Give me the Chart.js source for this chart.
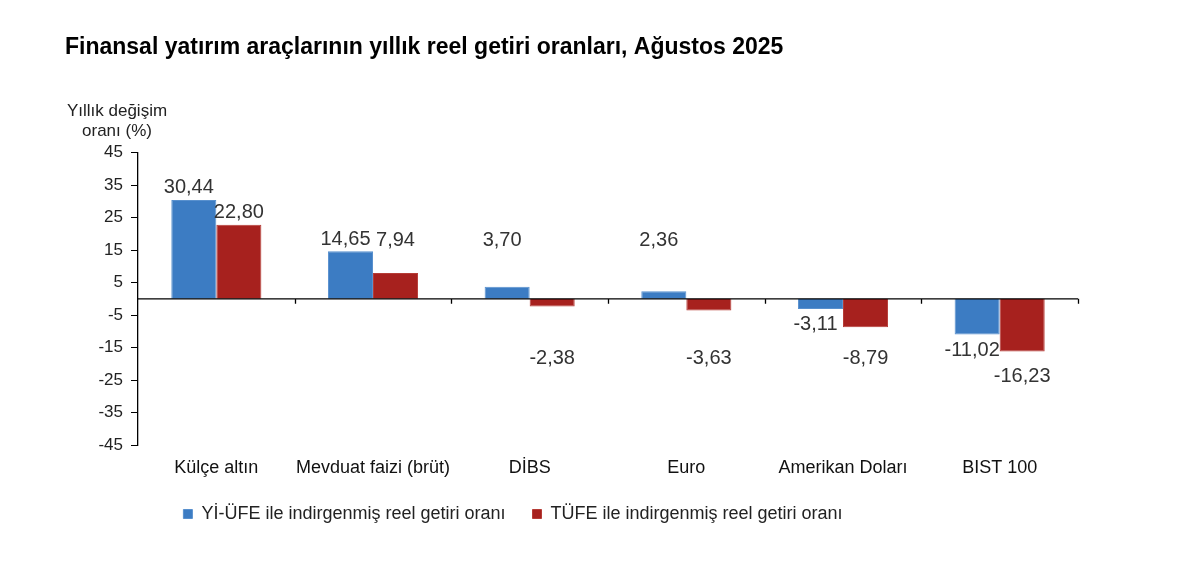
<!DOCTYPE html>
<html>
<head>
<meta charset="utf-8">
<script src="https://cdn.jsdelivr.net/npm/chart.js@4"></script>
<style>
  html, body { margin: 0; padding: 0; background: #fff; }
  #wrap { width: 1200px; height: 571px; }
</style>
</head>
<body>
<div id="wrap"><canvas id="barChart" width="1200" height="571"></canvas></div>
<script>
// Data
var categories = ['Külçe altın', 'Mevduat faizi (brüt)', 'DİBS', 'Euro', 'Amerikan Doları', 'BIST 100'];
var yiUfeValues = [30.44, 14.65, 3.70, 2.36, -3.11, -11.02];
var tufeValues = [22.80, 7.94, -2.38, -3.63, -8.79, -16.23];
var yTicks = [45, 35, 25, 15, 5, -5, -15, -25, -35, -45];

var fontFamily = '"Liberation Sans", Arial, sans-serif';
// legend sits left of the canvas centre in the original
var legendCenterX = 513;
var legendCenterY = 513;

// zero line, category tick marks, axis caption and value labels
var extrasPlugin = {
    id: 'extras',
    afterUpdate: function (chart) {
        var legend = chart.legend;
        if (!legend) return;
        var dx = legendCenterX - (legend.left + legend.right) / 2;
        var dy = legendCenterY - (legend.top + 35);
        legend.left += dx;
        legend.right += dx;
        legend.top += dy;
        legend.bottom += dy;
        legend.adjustHitBoxes();
    },
    afterDatasetsDraw: function (chart) {
        var ctx = chart.ctx;
        var area = chart.chartArea;
        var y0 = chart.scales.y.getPixelForValue(0);
        var step = (area.right - area.left) / categories.length;

        ctx.save();
        ctx.strokeStyle = '#000';
        ctx.lineWidth = 1.3;
        ctx.beginPath();
        ctx.moveTo(area.left, y0);
        ctx.lineTo(area.right, y0);
        for (var i = 1; i <= categories.length; i++) {
            var x = Math.round(area.left + i * step) + 0.5;
            ctx.moveTo(x, y0);
            ctx.lineTo(x, y0 + 5);
        }
        ctx.stroke();

        // axis caption
        ctx.fillStyle = '#222';
        ctx.font = '17px ' + fontFamily;
        ctx.textAlign = 'center';
        ctx.textBaseline = 'middle';
        ctx.fillText('Yıllık değişim', area.left - 21, 111);
        ctx.fillText('oranı (%)', area.left - 21, 131);

        // value labels
        ctx.font = '20px ' + fontFamily;
        ctx.fillStyle = '#333';
        chart.data.datasets.forEach(function (ds, di) {
            chart.getDatasetMeta(di).data.forEach(function (bar, i) {
                var v = ds.data[i];
                var txt = v.toFixed(2).replace('.', ',');
                var lx = di === 0 ? bar.x - 5 : bar.x;
                var ly;
                if (v >= 0) {
                    ly = Math.min(bar.y - 12, y0 - 58);
                } else if (di === 0) {
                    ly = bar.y + 16;
                } else {
                    ly = Math.max(y0 + 60, bar.y + 25);
                }
                ctx.fillText(txt, lx, ly);
            });
        });
        ctx.restore();
    }
};

var ctx = document.getElementById('barChart').getContext('2d');
new Chart(ctx, {
    type: 'bar',
    data: {
        labels: categories,
        datasets: [{
            label: 'Yİ-ÜFE ile indirgenmiş reel getiri oranı',
            data: yiUfeValues,
            backgroundColor: '#3c7cc3',
            borderColor: '#5890ce',
            borderWidth: 1,
            categoryPercentage: 0.575,
            barPercentage: 1.0
        }, {
            label: 'TÜFE ile indirgenmiş reel getiri oranı',
            data: tufeValues,
            backgroundColor: '#a7211e',
            borderColor: '#b63c36',
            borderWidth: 1,
            categoryPercentage: 0.575,
            barPercentage: 1.0
        }]
    },
    options: {
        responsive: false,
        animation: false,
        layout: {
            padding: { left: 65, right: 122, top: 0, bottom: 31 }
        },
        plugins: {
            title: {
                display: true,
                text: 'Finansal yatırım araçlarının yıllık reel getiri oranları, Ağustos 2025',
                align: 'start',
                color: '#000',
                font: { family: fontFamily, size: 23, weight: 'bold' },
                padding: { top: 34, bottom: 91 }
            },
            legend: {
                position: 'bottom',
                labels: {
                    color: '#222',
                    boxWidth: 9,
                    boxHeight: 9,
                    padding: 27,
                    font: { family: fontFamily, size: 18 }
                }
            },
            tooltip: { enabled: false }
        },
        scales: {
            x: {
                grid: { display: false },
                border: { display: false },
                afterFit: function (scale) {
                    scale.height = 40;
                },
                ticks: {
                    color: '#111',
                    font: { family: fontFamily, size: 18 },
                    padding: 4,
                    maxRotation: 0,
                    minRotation: 0,
                    autoSkip: false
                }
            },
            y: {
                min: -45,
                max: 45,
                afterBuildTicks: function (scale) {
                    scale.ticks = yTicks.map(function (v) { return { value: v }; });
                },
                afterFit: function (scale) {
                    scale.width = 73;
                },
                border: { display: true, color: '#000', width: 1.3 },
                grid: {
                    drawOnChartArea: false,
                    drawTicks: true,
                    tickLength: 7,
                    color: '#000'
                },
                ticks: {
                    color: '#222',
                    font: { family: fontFamily, size: 17 },
                    padding: 8
                }
            }
        }
    },
    plugins: [extrasPlugin]
});
</script>
</body>
</html>
